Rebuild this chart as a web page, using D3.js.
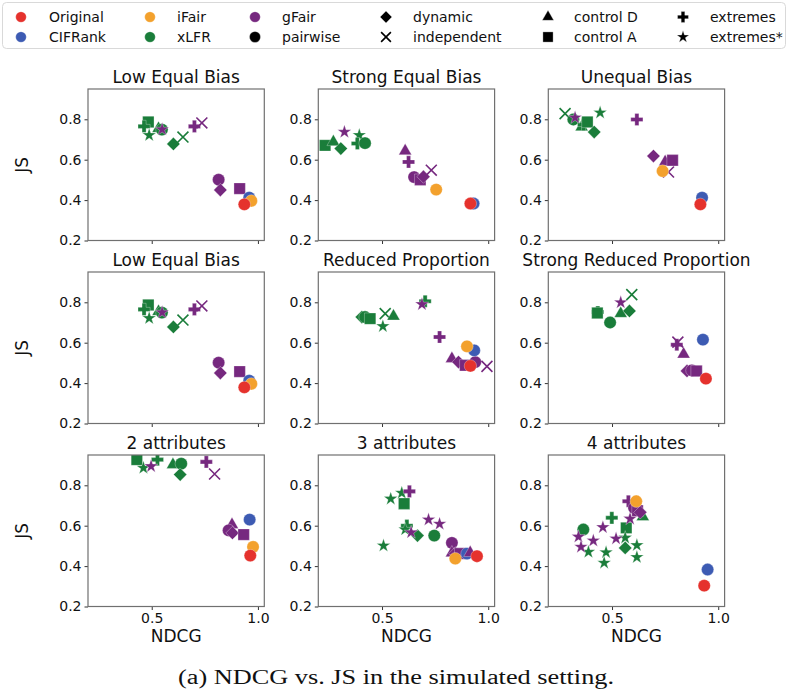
<!DOCTYPE html>
<html>
<head>
<meta charset="utf-8">
<script src="https://cdn.jsdelivr.net/npm/d3@7"></script>
<style>
  body { margin: 0; background: #fff; }
  text { font-family: "DejaVu Sans", sans-serif; fill: #111; }
</style>
</head>
<body>
<svg id="chart" width="788" height="694"></svg>
<script>
// methods (colour) and variants (marker)
var methods = ["Original", "CIFRank", "iFair", "xLFR", "gFair"];
var methodColors = ["#e5322d", "#3d5bb3", "#f3a12d", "#1a7d3a", "#76287f"];
var variants = ["pairwise", "dynamic", "independent", "control D", "control A", "extremes", "extremes*"];
var legendOrder = ["Original", "CIFRank", "iFair", "xLFR", "gFair", "pairwise",
  "dynamic", "independent", "control D", "control A", "extremes", "extremes*"];

var yTicks = [0.2, 0.4, 0.6, 0.8];
var xTicks = [0.5, 1.0];

// [method, variant, NDCG, JS]
var lowEqualBias = [
  ["xLFR", "control D", 0.532, 0.754],
  ["xLFR", "control A", 0.484, 0.787],
  ["xLFR", "extremes", 0.464, 0.765],
  ["xLFR", "extremes*", 0.488, 0.721],
  ["xLFR", "pairwise", 0.548, 0.749],
  ["xLFR", "dynamic", 0.602, 0.678],
  ["xLFR", "independent", 0.647, 0.712],
  ["gFair", "extremes*", 0.549, 0.750],
  ["gFair", "extremes", 0.701, 0.765],
  ["gFair", "independent", 0.736, 0.782],
  ["gFair", "pairwise", 0.815, 0.501],
  ["gFair", "dynamic", 0.823, 0.450],
  ["gFair", "control A", 0.914, 0.457],
  ["CIFRank", "pairwise", 0.959, 0.412],
  ["iFair", "pairwise", 0.969, 0.396],
  ["Original", "pairwise", 0.936, 0.379]
];

var strongEqualBias = [
  ["xLFR", "control A", 0.232, 0.671],
  ["xLFR", "control D", 0.271, 0.688],
  ["xLFR", "dynamic", 0.306, 0.655],
  ["xLFR", "extremes*", 0.393, 0.721],
  ["xLFR", "extremes", 0.384, 0.680],
  ["xLFR", "pairwise", 0.420, 0.682],
  ["gFair", "extremes*", 0.323, 0.737],
  ["gFair", "control D", 0.609, 0.643],
  ["gFair", "extremes", 0.625, 0.589],
  ["gFair", "pairwise", 0.651, 0.514],
  ["gFair", "control A", 0.680, 0.501],
  ["gFair", "dynamic", 0.695, 0.516],
  ["gFair", "independent", 0.732, 0.548],
  ["iFair", "pairwise", 0.755, 0.452],
  ["CIFRank", "pairwise", 0.931, 0.383],
  ["Original", "pairwise", 0.916, 0.383]
];

var unequalBias = [
  ["xLFR", "independent", 0.279, 0.828],
  ["xLFR", "pairwise", 0.318, 0.799],
  ["xLFR", "control D", 0.357, 0.762],
  ["xLFR", "extremes", 0.366, 0.774],
  ["xLFR", "control A", 0.384, 0.787],
  ["xLFR", "dynamic", 0.416, 0.737],
  ["xLFR", "extremes*", 0.444, 0.833],
  ["gFair", "extremes*", 0.326, 0.808],
  ["gFair", "extremes", 0.617, 0.799],
  ["gFair", "dynamic", 0.695, 0.618],
  ["gFair", "control D", 0.750, 0.589],
  ["gFair", "independent", 0.766, 0.539],
  ["gFair", "control A", 0.785, 0.597],
  ["iFair", "pairwise", 0.738, 0.544],
  ["CIFRank", "pairwise", 0.924, 0.412],
  ["Original", "pairwise", 0.916, 0.379]
];

var reducedProportion = [
  ["xLFR", "dynamic", 0.405, 0.727],
  ["xLFR", "pairwise", 0.420, 0.727],
  ["xLFR", "control A", 0.444, 0.719],
  ["xLFR", "independent", 0.515, 0.744],
  ["xLFR", "control D", 0.554, 0.731],
  ["xLFR", "extremes*", 0.504, 0.681],
  ["xLFR", "extremes", 0.703, 0.805],
  ["gFair", "extremes*", 0.688, 0.790],
  ["gFair", "extremes", 0.771, 0.628],
  ["gFair", "control D", 0.829, 0.521],
  ["gFair", "dynamic", 0.860, 0.504],
  ["gFair", "control A", 0.892, 0.488],
  ["gFair", "pairwise", 0.939, 0.504],
  ["gFair", "independent", 0.994, 0.483],
  ["CIFRank", "pairwise", 0.934, 0.562],
  ["iFair", "pairwise", 0.900, 0.582],
  ["Original", "pairwise", 0.916, 0.485]
];

var strongReducedProportion = [
  ["xLFR", "extremes", 0.433, 0.752],
  ["xLFR", "control A", 0.431, 0.747],
  ["xLFR", "pairwise", 0.491, 0.700],
  ["xLFR", "control D", 0.541, 0.744],
  ["xLFR", "dynamic", 0.582, 0.757],
  ["xLFR", "independent", 0.593, 0.838],
  ["gFair", "extremes*", 0.541, 0.799],
  ["gFair", "extremes", 0.805, 0.590],
  ["gFair", "independent", 0.810, 0.603],
  ["gFair", "control D", 0.837, 0.543],
  ["gFair", "dynamic", 0.853, 0.460],
  ["gFair", "pairwise", 0.876, 0.463],
  ["gFair", "control A", 0.898, 0.460],
  ["CIFRank", "pairwise", 0.928, 0.615],
  ["Original", "pairwise", 0.942, 0.422]
];

var twoAttributes = [
  ["xLFR", "control A", 0.430, 0.927],
  ["xLFR", "extremes*", 0.461, 0.886],
  ["xLFR", "extremes", 0.527, 0.927],
  ["xLFR", "control D", 0.600, 0.902],
  ["xLFR", "pairwise", 0.639, 0.907],
  ["xLFR", "dynamic", 0.634, 0.853],
  ["gFair", "extremes*", 0.497, 0.894],
  ["gFair", "extremes", 0.757, 0.916],
  ["gFair", "independent", 0.796, 0.856],
  ["gFair", "control D", 0.878, 0.605],
  ["gFair", "pairwise", 0.862, 0.577],
  ["gFair", "dynamic", 0.880, 0.564],
  ["gFair", "control A", 0.933, 0.556],
  ["CIFRank", "pairwise", 0.961, 0.630],
  ["iFair", "pairwise", 0.977, 0.495],
  ["Original", "pairwise", 0.964, 0.452]
];

var threeAttributes = [
  ["xLFR", "extremes*", 0.541, 0.733],
  ["xLFR", "extremes*", 0.593, 0.762],
  ["xLFR", "control A", 0.604, 0.709],
  ["xLFR", "extremes*", 0.507, 0.501],
  ["xLFR", "extremes", 0.617, 0.600],
  ["xLFR", "extremes*", 0.609, 0.581],
  ["xLFR", "dynamic", 0.667, 0.551],
  ["xLFR", "pairwise", 0.746, 0.551],
  ["gFair", "extremes", 0.629, 0.770],
  ["gFair", "extremes*", 0.637, 0.567],
  ["gFair", "extremes*", 0.719, 0.630],
  ["gFair", "extremes*", 0.771, 0.609],
  ["gFair", "pairwise", 0.829, 0.515],
  ["gFair", "control D", 0.829, 0.465],
  ["gFair", "dynamic", 0.845, 0.462],
  ["gFair", "control A", 0.868, 0.462],
  ["CIFRank", "pairwise", 0.900, 0.462],
  ["gFair", "control D", 0.915, 0.466],
  ["iFair", "pairwise", 0.845, 0.437],
  ["Original", "pairwise", 0.947, 0.449]
];

var fourAttributes = [
  ["xLFR", "extremes", 0.499, 0.639],
  ["xLFR", "control A", 0.567, 0.589],
  ["xLFR", "pairwise", 0.365, 0.581],
  ["xLFR", "extremes*", 0.562, 0.540],
  ["xLFR", "dynamic", 0.562, 0.490],
  ["xLFR", "extremes*", 0.389, 0.470],
  ["xLFR", "extremes*", 0.472, 0.468],
  ["xLFR", "extremes*", 0.463, 0.416],
  ["xLFR", "extremes*", 0.617, 0.503],
  ["xLFR", "extremes*", 0.617, 0.444],
  ["xLFR", "control D", 0.645, 0.644],
  ["gFair", "extremes*", 0.585, 0.634],
  ["gFair", "extremes*", 0.457, 0.592],
  ["gFair", "extremes*", 0.342, 0.545],
  ["gFair", "extremes*", 0.412, 0.526],
  ["gFair", "extremes*", 0.354, 0.495],
  ["gFair", "extremes*", 0.519, 0.536],
  ["gFair", "extremes", 0.577, 0.721],
  ["gFair", "pairwise", 0.604, 0.688],
  ["gFair", "control A", 0.620, 0.674],
  ["gFair", "dynamic", 0.633, 0.666],
  ["iFair", "pairwise", 0.614, 0.721],
  ["CIFRank", "pairwise", 0.950, 0.383],
  ["Original", "pairwise", 0.934, 0.303]
];

var panelTitles = ["Low Equal Bias", "Strong Equal Bias", "Unequal Bias",
  "Low Equal Bias", "Reduced Proportion", "Strong Reduced Proportion",
  "2 attributes", "3 attributes", "4 attributes"];
var panelData = [lowEqualBias, strongEqualBias, unequalBias,
  lowEqualBias, reducedProportion, strongReducedProportion,
  twoAttributes, threeAttributes, fourAttributes];

// layout
var colLeft = [88, 318.3, 548.3];
var rowTop = [89, 272, 455];
var pw = 176.3, ph = 151.5;

var svg = d3.select("#chart");

var color = d3.scaleOrdinal().domain(methods).range(methodColors);

// marker generators (matplotlib-like shapes)
var symbolFor = {
  "pairwise":    { type: d3.symbolCircle,   size: 120, rot: 0 },
  "dynamic":     { type: d3.symbolSquare,   size: 88,  rot: 45 },
  "independent": { type: d3.symbolX,        size: 80,  rot: 0, stroke: true },
  "control D":   { type: d3.symbolTriangle, size: 72,  rot: 0 },
  "control A":   { type: d3.symbolSquare,   size: 130, rot: 0 },
  "extremes":    { type: d3.symbolCross,    size: 82,  rot: 0 },
  "extremes*":   { type: d3.symbolStar,     size: 58,  rot: 0 }
};

function drawMarker(g, variant, col, cx, cy, scale) {
  var s = symbolFor[variant];
  var p = g.append("path")
    .attr("d", d3.symbol().type(s.type).size(s.size * (scale || 1))())
    .attr("transform", "translate(" + cx + "," + cy + ") rotate(" + s.rot + ")");
  if (s.stroke) {
    p.attr("fill", "none").attr("stroke", col).attr("stroke-width", 1.6);
  } else {
    p.attr("fill", col).attr("stroke", "#fff").attr("stroke-opacity", 0.5).attr("stroke-width", 0.6);
  }
  return p;
}

panelData.forEach(function (data, i) {
  var r = Math.floor(i / 3), c = i % 3;
  var g = svg.append("g")
    .attr("transform", "translate(" + colLeft[c] + "," + rowTop[r] + ")");

  var x = d3.scaleLinear().domain([0.2, 1.03]).range([0, pw]);
  var y = d3.scaleLinear().domain([0.2, 0.95]).range([ph, 0]);

  g.append("clipPath").attr("id", "clip" + i)
    .append("rect").attr("width", pw).attr("height", ph);

  var pts = g.append("g").attr("clip-path", "url(#clip" + i + ")");
  data.forEach(function (d) {
    drawMarker(pts, d[1], color(d[0]), x(d[2]), y(d[3]));
  });

  // axes
  var ya = g.append("g")
    .call(d3.axisLeft(y).tickValues(yTicks).tickFormat(d3.format(".1f")).tickSize(3.5).tickPadding(3));
  var xa = g.append("g")
    .attr("transform", "translate(0," + ph + ")")
    .call(d3.axisBottom(x).tickValues(xTicks)
      .tickFormat(r === 2 ? d3.format(".1f") : function () { return ""; })
      .tickSize(3.5).tickPadding(3));
  [ya, xa].forEach(function (a) {
    a.select(".domain").remove();
    a.selectAll(".tick line").attr("stroke", "#333");
    a.selectAll(".tick text").style("font-size", "14px").style("font-family", "DejaVu Sans").attr("fill", "#111");
  });

  // spines
  g.append("rect")
    .attr("width", pw).attr("height", ph)
    .attr("fill", "none").attr("stroke", "#707070").attr("stroke-width", 1.2);

  g.append("text")
    .attr("x", pw / 2).attr("y", -6)
    .attr("text-anchor", "middle")
    .style("font-size", "17px")
    .text(panelTitles[i]);

  if (c === 0) {
    g.append("text")
      .attr("transform", "translate(-60," + (ph / 2) + ") rotate(-90)")
      .attr("text-anchor", "middle")
      .style("font-size", "17px")
      .text("JS");
  }
  if (r === 2) {
    g.append("text")
      .attr("x", pw / 2).attr("y", ph + 35)
      .attr("text-anchor", "middle")
      .style("font-size", "17px")
      .text("NDCG");
  }
});

// legend
var legend = svg.append("g");
legend.append("rect")
  .attr("x", 2.5).attr("y", 2.5).attr("width", 783).attr("height", 46)
  .attr("rx", 4).attr("fill", "#fff").attr("stroke", "#d9d9d9");

var legMarkX = [21, 150, 255, 386, 548, 683];
var legTextX = [49, 177, 282, 413, 574, 710];
var legRowY = [17, 37];

legendOrder.forEach(function (name, k) {
  var col = Math.floor(k / 2), row = k % 2;
  var isMethod = methods.indexOf(name) >= 0;
  var mg = legend.append("g");
  if (isMethod) {
    drawMarker(mg, "pairwise", color(name), legMarkX[col], legRowY[row], 0.75);
  } else {
    drawMarker(mg, name, "#000", legMarkX[col], legRowY[row], 0.8);
  }
  legend.append("text")
    .attr("x", legTextX[col]).attr("y", legRowY[row])
    .attr("dy", "0.35em")
    .style("font-size", "14px")
    .text(name);
});

// caption
svg.append("text")
  .attr("x", 396).attr("y", 684)
  .attr("text-anchor", "middle")
  .attr("textLength", 436)
  .attr("lengthAdjust", "spacingAndGlyphs")
  .style("font-family", "'Liberation Serif', 'DejaVu Serif', serif")
  .style("font-size", "20px")
  .text("(a) NDCG vs. JS in the simulated setting.");
</script>
</body>
</html>
